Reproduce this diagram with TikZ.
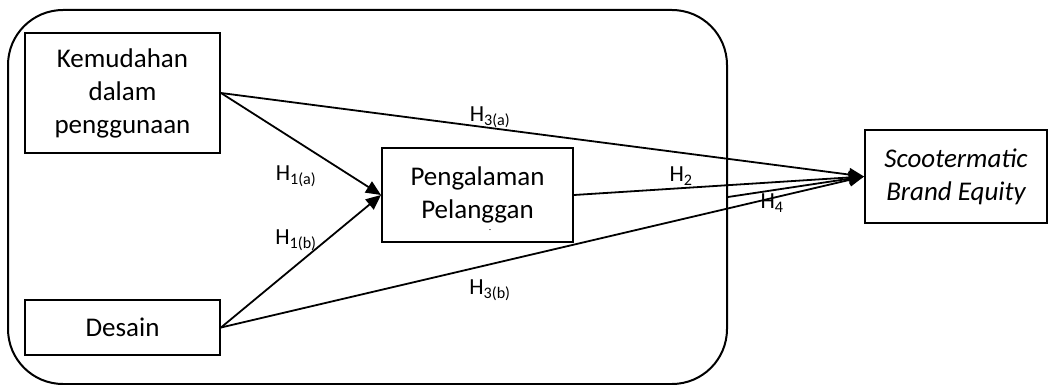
\documentclass[tikz,border=0pt]{standalone}
\usepackage{fontspec}
\setmainfont{Carlito}
\usetikzlibrary{arrows.meta}
\begin{document}
\begin{tikzpicture}[x=1pt,y=-1pt,
  box/.style={draw,line width=2pt,inner sep=0pt,align=center,font=\fontsize{27}{33}\selectfont},
  conn/.style={line width=1.8pt},
  arr/.style={conn,-{Triangle[length=15pt,width=13pt]}},
  hlab/.style={inner sep=0pt,font=\fontsize{23}{26}\selectfont}]
\useasboundingbox (0,0) rectangle (1051,385);
\node[draw,line width=2pt,rounded corners=55pt,minimum width=719pt,minimum height=374pt,inner sep=0pt] (frame) at (367.5,197) {};
\node[box,minimum width=195pt,minimum height=120pt] (K) at (122.5,93) {Kemudahan\\dalam\\penggunaan};
\node[box,minimum width=195pt,minimum height=55pt] (D) at (122.5,327.5) {Desain};
\node[box,minimum width=191pt,minimum height=94pt] (P) at (477.5,195) {Pengalaman\\Pelanggan};
\node[box,minimum width=182pt,minimum height=93pt] (S) at (956,176.5) {\itshape Scootermatic\\\itshape Brand Equity};
\node[inner sep=0pt,font=\fontsize{8}{8}\selectfont] (dot) at (490,231) {-};
\draw[arr] (K.east) -- (P.west);
\draw[arr] (D.east) -- (P.west);
\draw[arr] (K.east) -- (S.west);
\draw[arr] (P.east) -- (S.west);
\draw[arr] (D.east) -- (S.west);
\draw[arr] (frame.east) -- (S.west);
\node[hlab] (h3a) at (490,117) {H\textsubscript{3(a)}};
\node[hlab] (h1a) at (296,176) {H\textsubscript{1(a)}};
\node[hlab] (h1b) at (296,240) {H\textsubscript{1(b)}};
\node[hlab] (h2) at (681,176) {H\textsubscript{2}};
\node[hlab] (h4) at (772,203) {H\textsubscript{4}};
\node[hlab] (h3b) at (490,290) {H\textsubscript{3(b)}};
\end{tikzpicture}
\end{document}
